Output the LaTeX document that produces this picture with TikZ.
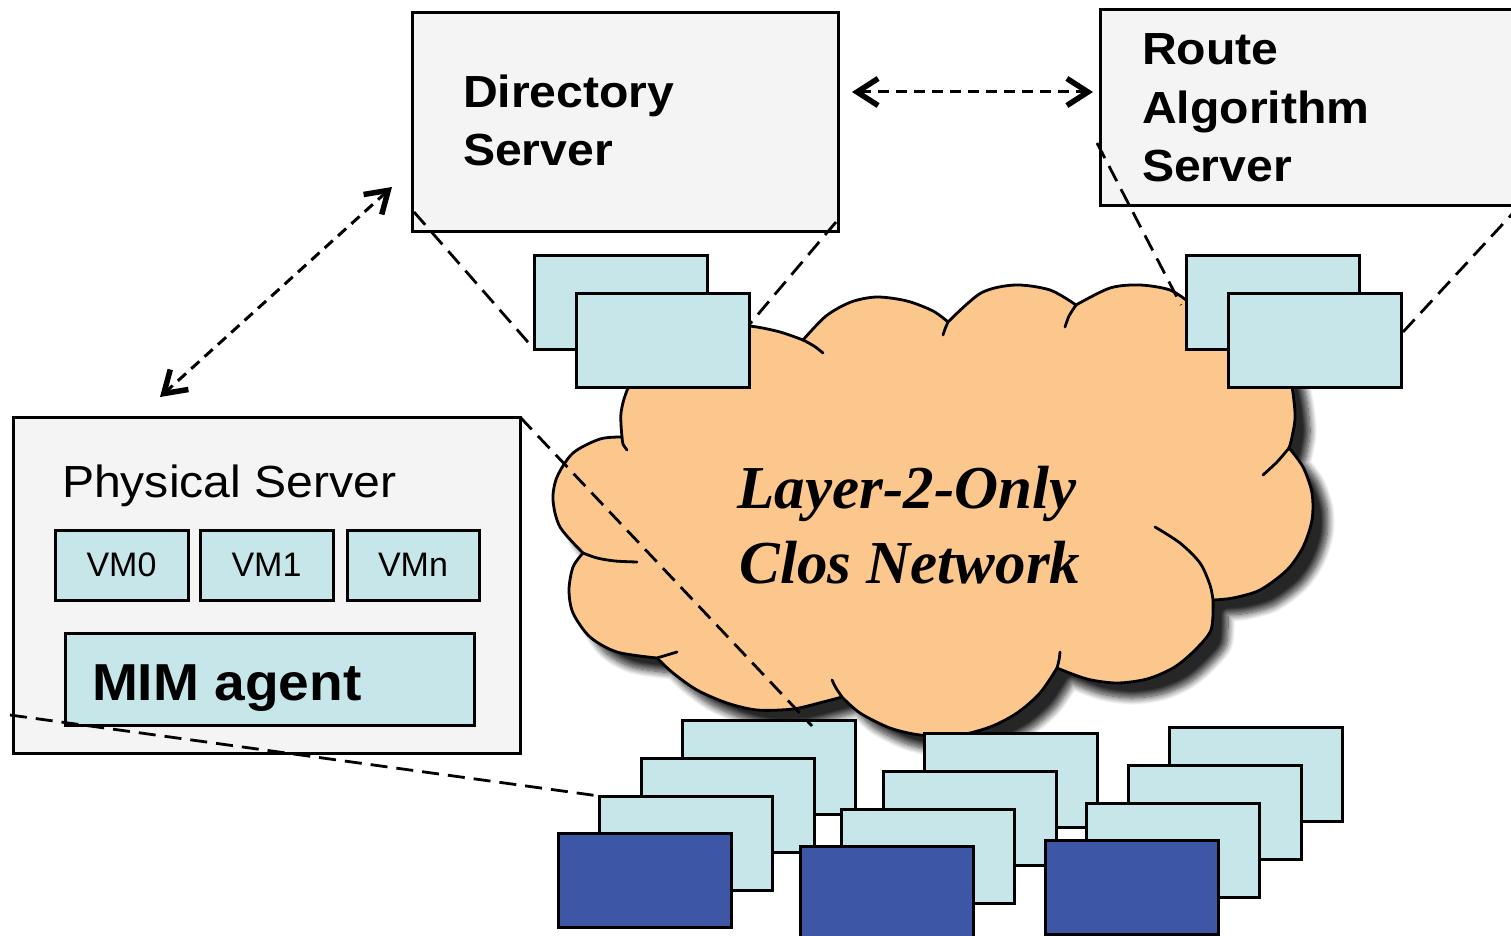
\documentclass[tikz,border=0pt]{standalone}
\usepackage{fontspec}
\setmainfont{Liberation Sans}
\newfontfamily\cloudfont{Liberation Serif}
\usepackage{graphicx}
\usetikzlibrary{arrows.meta,calc,shadows.blur}

\definecolor{panelgray}{HTML}{F4F4F4}
\definecolor{swblue}{HTML}{C6E6E9}
\definecolor{hostblue}{HTML}{3D56A6}
\definecolor{cloudfill}{HTML}{FCC78D}

% horizontal stretch for the sans labels
\newcommand{\wide}[2]{\scalebox{#1}[1]{#2}}

\tikzset{barb/.tip={Straight Barb[length=21pt,width=27pt,line width=2.5pt 1]}}

\begin{document}
\begin{tikzpicture}[x=1pt,y=-1pt,
  panel/.style={draw=black,line width=3pt,fill=panelgray,inner sep=0pt,outer sep=0pt,anchor=north west},
  swbox/.style={draw=black,line width=3pt,fill=swblue,inner sep=0pt,outer sep=0pt,anchor=north west,
                minimum width=173pt,minimum height=94pt},
  hostbox/.style={swbox,fill=hostblue},
  vmbox/.style={draw=black,line width=3pt,fill=swblue,inner sep=0pt,outer sep=0pt,anchor=north west,
                minimum height=70pt,font=\fontsize{34}{40}\selectfont},
  label/.style={anchor=base west,inner sep=0pt,outer sep=0pt},
  biglabel/.style={label,font=\bfseries\fontsize{45}{54}\selectfont},
  cloudtext/.style={anchor=base,inner sep=0pt,outer sep=0pt,font=\cloudfont\bfseries\itshape\fontsize{61}{70}\selectfont},
  cloudline/.style={draw=black,line width=2.8pt,line join=round},
  tail/.style={draw=black,line width=2.8pt,line cap=round},
  callout/.style={line width=2.8pt,dash pattern=on 17pt off 9pt},
  link/.style={line width=3pt,dash pattern=on 11pt off 7pt,barb-barb},
]
\useasboundingbox (0,0) rectangle (1511,936);

% ---------- the network cloud ----------
\path[cloudline,fill=cloudfill,
      blur shadow={shadow xshift=15pt,shadow yshift=-15pt,shadow blur radius=7pt,shadow blur steps=12,shadow opacity=85}]
  (622,437)
  -- plot[smooth] coordinates {(622,437) (621,413) (628,388) (650,345) (700,322) (750,326) (780,332) (803,340)}
  -- plot[smooth] coordinates {(803,340) (826,316) (851,302) (877,297) (907,301) (933,311) (948,322)}
  -- plot[smooth] coordinates {(948,322) (981,293) (1015,285) (1050,290) (1076,305)}
  -- plot[smooth] coordinates {(1076,305) (1110,288) (1140,285) (1170,290) (1190,303)}
  -- plot[smooth] coordinates {(1190,303) (1225,300) (1265,330) (1288,370) (1295,413) (1292,437) (1289,448)}
  -- plot[smooth] coordinates {(1289,448) (1303,467) (1312,493) (1312,520) (1303,547) (1287,570) (1260,590) (1233,598) (1213,600)}
  -- plot[smooth] coordinates {(1213,600) (1211,630) (1193,652) (1173,668) (1147,679) (1117,683) (1087,679) (1057,668)}
  -- plot[smooth] coordinates {(1057,668) (1040,693) (1017,713) (990,727) (955,736) (920,735) (890,728) (860,713) (842,697)}
  -- plot[smooth] coordinates {(842,697) (823,702) (793,709) (757,710) (727,703) (697,690) (673,673) (657,658)}
  -- plot[smooth] coordinates {(657,658) (617,652) (590,637) (573,613) (569,590) (573,567) (583,553)}
  -- plot[smooth] coordinates {(583,553) (560,527) (553,500) (557,477) (573,453) (600,439) (622,437)}
  -- cycle;

% inner ends of the cloud arcs
\draw[tail] plot[smooth] coordinates {(622,437) (623,444) (627,450)};
\draw[tail] plot[smooth] coordinates {(803,340) (814,346) (823,353)};
\draw[tail] plot[smooth] coordinates {(948,322) (945,329) (943,335)};
\draw[tail] plot[smooth] coordinates {(1076,305) (1069,316) (1065,327)};
\draw[tail] plot[smooth] coordinates {(1289,448) (1277,462) (1263,475)};
\draw[tail] plot[smooth] coordinates {(1213,600) (1210,585) (1200,563) (1180,543) (1155,527)};
\draw[tail] plot[smooth] coordinates {(1057,668) (1059,660) (1060,652)};
\draw[tail] plot[smooth] coordinates {(842,697) (836,688) (832,680)};
\draw[tail] plot[smooth] coordinates {(657,658) (667,655) (677,652)};
\draw[tail] plot[smooth] coordinates {(583,553) (597,558) (615,561) (637,562)};

\node[cloudtext] (net1) at (907,508) {Layer-2-Only};
\node[cloudtext] (net2) at (910,583) {Clos Network};

% ---------- servers ----------
\node[panel,minimum width=426pt,minimum height=218pt] (dir) at (412,13) {};
\node[biglabel] (dirA) at (463,108) {\wide{1.07}{Directory}};
\node[biglabel] (dirB) at (463,166) {\wide{1.07}{Server}};

\node[panel,minimum width=440pt,minimum height=195pt] (route) at (1100,10) {};
\node[biglabel] (routeA) at (1142,65) {\wide{1.07}{Route}};
\node[biglabel] (routeB) at (1142,124) {\wide{1.07}{Algorithm}};
\node[biglabel] (routeC) at (1142,182) {\wide{1.07}{Server}};

\node[panel,minimum width=507pt,minimum height=336pt] (phys) at (13,417) {};
\node[label,font=\fontsize{45}{54}\selectfont] (physA) at (62,497) {\wide{1.07}{Physical Server}};
\node[vmbox,minimum width=133pt] (vm0) at (55,530) {VM0};
\node[vmbox,minimum width=133pt] (vm1) at (200,530) {VM1};
\node[vmbox,minimum width=132pt] (vmn) at (347,530) {VMn};
\node[panel,fill=swblue,minimum width=409pt,minimum height=92pt] (mim) at (65,633) {};
\node[label,font=\bfseries\fontsize{52}{60}\selectfont] (mimA) at (92,700) {\wide{1.06}{MIM agent}};

% ---------- switches ----------
\node[swbox] (dsw1) at (534,255) {};
\node[swbox] (dsw2) at (576,293) {};
\node[swbox] (rsw1) at (1186,255) {};
\node[swbox] (rsw2) at (1228,293) {};

\foreach \g/\ax/\ay in {1/682/720, 2/924/733, 3/1169/727} {
  \node[swbox]   (g\g-a) at (\ax,\ay) {};
  \node[swbox]   (g\g-b) at (\ax-41,\ay+38) {};
  \node[swbox]   (g\g-c) at (\ax-83,\ay+76) {};
  \node[hostbox] (g\g-d) at (\ax-124,\ay+113) {};
}

% ---------- callout lines ----------
\coordinate (redge) at (1525,200);
\draw[callout] ($(dir.south west)+(2,-19)$) -- (dsw1.south west);
\draw[callout] ($(dir.south east)+(-2,-9)$) -- ($(dsw2.north east)+(0,32)$);
\draw[callout] ($(route.north west)+(-3,133)$) -- ($(rsw1.north west)+(-5,50)$);
\draw[callout] ($(rsw2.north east)+(2,39)$) -- (redge);
\draw[callout] (phys.north east) -- ($(g1-a.north east)+(-43,6)$);
\draw[callout] ($(phys.south west)+(-3,-38)$) -- (g1-c.north west);

% ---------- control links ----------
\draw[link] ($(dir.north east)+(14,79)$) -- ($(route.north west)+(-7,82)$);
\draw[link] ($(dir.south west)+(-20,-44)$) -- ($(phys.north west)+(147,-20)$);
\end{tikzpicture}
\end{document}
